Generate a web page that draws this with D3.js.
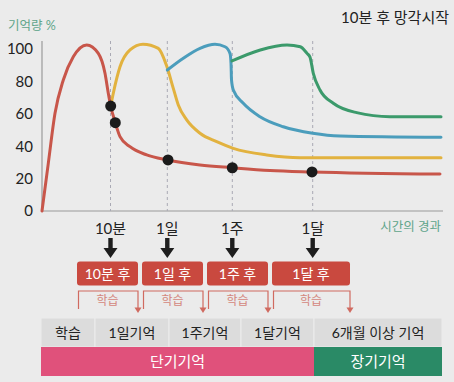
<!DOCTYPE html>
<html><head><meta charset="utf-8">
<script src="https://cdn.jsdelivr.net/npm/d3@7"></script>
<style>
html,body{margin:0;padding:0;background:#ebebeb;}
svg{display:block;font-family:Lato,"Noto Sans CJK KR",sans-serif;}
</style></head>
<body><svg id="c" width="454" height="382"></svg>
<script>
// ---- data ----
const yTicks = [0, 20, 40, 60, 80, 100];
const redT = [0, 6.3, 13, 21.3, 31.3, 44.7, 56.3, 63, 66.3, 68.7, 73.3, 78, 88, 104.7, 125.3, 158, 190.3, 228, 270, 398];
const redV = [0, 29.4, 60.3, 80.9, 95.2, 102.5, 97.3, 85, 72.7, 64.8, 54.5, 45.9, 39.7, 34.6, 31.5, 28.4, 26.7, 25, 24.1, 22.8];
const yellowT = [68.7, 71.3, 78, 88, 101, 116.3, 124.7, 131.3, 136.3, 144.7, 158, 174.7, 191.3, 224.7, 258, 399];
const yellowV = [64.8, 72.7, 89, 99.4, 103, 100.4, 89.5, 75.7, 65.4, 56.2, 48, 42.8, 38.7, 34.6, 32.9, 32.9];
const blueT = [125.3, 141.3, 158, 173, 183, 188, 189, 189.5, 191.3, 201.3, 218, 241.3, 270.7, 298, 399];
const blueV = [87, 94.3, 100.4, 102.9, 101.4, 97.3, 91.2, 80.9, 74.7, 66.5, 58.2, 52, 48, 46.3, 45.5];
const greenT = [190, 218.3, 245, 258.3, 265, 268, 271.3, 278, 291.3, 314.7, 348, 399];
const greenV = [92.6, 99.4, 102.5, 101.4, 97.3, 95, 85, 74.7, 66.5, 60.7, 58.2, 58.2];
const dotT = [68.7, 73.3, 126, 190.3, 270];
const dotV = [64.8, 54.5, 31.5, 26.7, 24.1];
const markT = [68.5, 125.3, 190.3, 270.7];
const markLabels = ["10분", "1일", "1주", "1달"];
const boxLabels = ["10분 후", "1일 후", "1주 후", "1달 후"];
const tableLabels = ["학습", "1일기억", "1주기억", "1달기억", "6개월 이상 기억"];
const bandLabels = ["단기기억", "장기기억"];

// ---- layout ----
const svg = d3.select("#c");
const x = d3.scaleLinear().domain([0, 400]).range([42, 442]);
const y = d3.scaleLinear().domain([0, 100]).range([211, 49]);
const TXT = "#222";
const GREENTXT = "#5fa58a";

// title & axis titles
svg.append("text").attr("x", 449).attr("y", 23).attr("text-anchor", "end")
  .attr("font-size", 15).attr("fill", TXT).text("10분 후 망각시작");
svg.append("text").attr("x", 8).attr("y", 30).attr("font-size", 12.5)
  .attr("fill", GREENTXT).text("기억량 %");
svg.append("text").attr("x", 441).attr("y", 231).attr("text-anchor", "end")
  .attr("font-size", 12.5).attr("fill", GREENTXT).text("시간의 경과");

// y axis
const yAxis = d3.axisLeft(y).tickValues(yTicks).tickSize(0).tickPadding(9);
const gy = svg.append("g").attr("transform", `translate(${x(0)},0)`).call(yAxis);
gy.select(".domain").remove();
gy.selectAll("text").attr("font-size", 15).attr("fill", TXT).attr("font-family", "Lato,sans-serif");
svg.append("line").attr("x1", x(0)).attr("x2", x(0)).attr("y1", 41).attr("y2", y(0))
  .attr("stroke", "#9a9a9a").attr("stroke-width", 1.2);
svg.append("line").attr("x1", x(0)).attr("x2", x(401)).attr("y1", y(0)).attr("y2", y(0))
  .attr("stroke", "#9a9a9a").attr("stroke-width", 1.2);

// dashed markers
svg.selectAll("line.mk").data(markT).join("line").attr("class", "mk")
  .attr("x1", d => x(d)).attr("x2", d => x(d)).attr("y1", 41).attr("y2", y(0))
  .attr("stroke", "#a9a9b4").attr("stroke-width", 1).attr("stroke-dasharray", "3,3");

// x labels
svg.selectAll("text.ml").data(markLabels).join("text").attr("class", "ml")
  .attr("x", (d, i) => x(markT[i])).attr("y", 234).attr("text-anchor", "middle")
  .attr("font-size", 15).attr("fill", TXT).text(d => d);

// curves
const line = d3.line().x(d => x(d[0])).y(d => y(d[1])).curve(d3.curveMonotoneX);
const series = [
  [yellowT, yellowV, "#e2b23f"],
  [blueT, blueV, "#4b9dbc"],
  [greenT, greenV, "#3b9a6b"],
  [redT, redV, "#c8564a"]
];
series.forEach(([t, v, c]) => {
  svg.append("path").datum(t.map((tt, i) => [tt, v[i]])).attr("d", line)
    .attr("fill", "none").attr("stroke", c).attr("stroke-width", 3)
    .attr("stroke-linecap", "round").attr("stroke-linejoin", "round");
});
svg.selectAll("circle.dot").data(dotT).join("circle").attr("class", "dot")
  .attr("cx", d => x(d)).attr("cy", (d, i) => y(dotV[i])).attr("r", 5.5).attr("fill", "#1b1b1b");

// arrows
markT.forEach(t => {
  const cx = x(t);
  svg.append("path")
    .attr("d", `M${cx - 2.2},238 L${cx + 2.2},238 L${cx + 2.2},248 L${cx + 7},248 L${cx},258 L${cx - 7},248 L${cx - 2.2},248 Z`)
    .attr("fill", "#1e1e1e");
});

// red boxes
const boxes = [[77, 138], [142, 203], [207, 268], [272, 350]];
const BOXRED = "#c9493f";
boxes.forEach(([a, b], i) => {
  svg.append("rect").attr("x", a).attr("y", 261.5).attr("width", b - a).attr("height", 24)
    .attr("rx", 3).attr("fill", BOXRED);
  svg.append("text").attr("x", (a + b) / 2).attr("y", 279).attr("text-anchor", "middle")
    .attr("font-size", 14).attr("fill", "#fff").text(boxLabels[i]);
  // bracket
  svg.append("path").attr("d", `M${a + 1.5},309 L${a + 1.5},291 L${b},291 L${b},308`)
    .attr("fill", "none").attr("stroke", "#d06a60").attr("stroke-width", 1.2);
  svg.append("path").attr("d", `M${b - 3.5},307.5 L${b + 3.5},307.5 L${b},313 Z`).attr("fill", "#d06a60");
  svg.append("text").attr("x", (a + b) / 2).attr("y", 305).attr("text-anchor", "middle")
    .attr("font-size", 12).attr("fill", "#d4877d").text("학습");
});

// table
const cells = [[41, 95], [95, 169], [169, 241], [241, 314], [314, 442]];
cells.forEach(([a, b], i) => {
  svg.append("rect").attr("x", a).attr("y", 318).attr("width", b - a).attr("height", 29)
    .attr("fill", "#dcdcdc").attr("stroke", "#ececec").attr("stroke-width", 1);
  svg.append("text").attr("x", (a + b) / 2).attr("y", 338).attr("text-anchor", "middle")
    .attr("font-size", 14).attr("fill", TXT).text(tableLabels[i]);
});
const bands = [[41, 314, "#e0517b"], [314, 442, "#2a8a66"]];
bands.forEach(([a, b, c], i) => {
  svg.append("rect").attr("x", a).attr("y", 347).attr("width", b - a).attr("height", 29).attr("fill", c);
  svg.append("text").attr("x", (a + b) / 2).attr("y", 367).attr("text-anchor", "middle")
    .attr("font-size", 15).attr("fill", "#fff").text(bandLabels[i]);
});
</script></body></html>
